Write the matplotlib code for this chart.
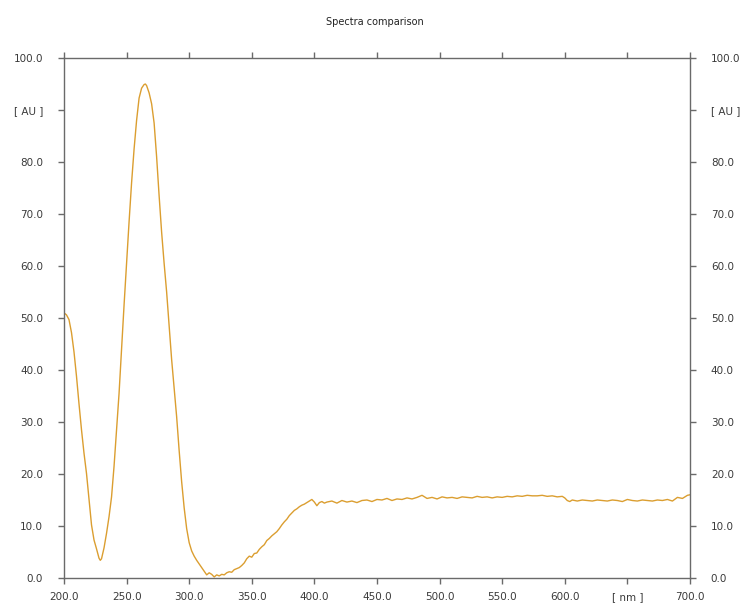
import matplotlib
matplotlib.use("Agg")
import matplotlib.pyplot as plt
from matplotlib.ticker import FixedLocator, FixedFormatter

plt.rcParams['font.family'] = ['DejaVu Sans']

# Absorbance spectrum (wavelength in nm, absorbance in AU)
wavelength = [
    200, 202, 204, 206, 208, 210, 212, 214, 216, 218, 220, 222, 224, 226, 228, 229,
    230, 232, 234, 236, 238, 240, 242, 244, 246, 248, 250, 252, 254, 256, 258, 260,
    262, 264, 265, 266, 268, 270, 272, 274, 276, 278, 280, 282, 284, 286, 288, 290,
    292, 294, 296, 298, 300, 302, 304, 306, 308, 310, 312, 314, 316, 318, 320, 322,
    324, 326, 328, 330, 332, 334, 336, 338, 340, 342, 344, 346, 348, 350, 352, 354,
    356, 358, 360, 362, 364, 366, 368, 370, 372, 374, 376, 378, 380, 382, 384, 386,
    388, 390, 392, 394, 396, 398, 400, 402, 404, 406, 408, 410, 414, 418, 422, 426,
    430, 434, 438, 442, 446, 450, 454, 458, 462, 466, 470, 474, 478, 482, 486, 490,
    494, 498, 502, 506, 510, 514, 518, 522, 526, 530, 534, 538, 542, 546, 550, 554,
    558, 562, 566, 570, 574, 578, 582, 586, 590, 594, 598, 600, 602, 604, 606, 610,
    614, 618, 622, 626, 630, 634, 638, 642, 646, 650, 654, 658, 662, 666, 670, 674,
    678, 682, 686, 690, 694, 698, 700,
]
absorbance = [
    51.0, 50.6, 49.7, 47.2, 43.5, 38.8, 33.5, 28.5, 24.0, 20.1, 15.2, 10.2, 7.3, 5.6, 3.8, 3.4,
    3.7, 5.8, 8.6, 11.8, 15.6, 21.5, 28.5, 35.5, 44.0, 52.5, 60.5, 68.5, 76.0, 82.5, 88.0, 92.3,
    94.2, 94.9, 95.0, 94.7, 93.3, 91.2, 87.5, 81.0, 73.5, 66.5, 60.5, 55.0, 48.5, 42.0, 36.5, 31.0,
    24.5, 18.5, 13.5, 9.5, 6.8, 5.2, 4.2, 3.4, 2.7, 2.0, 1.3, 0.6, 1.0, 0.7, 0.2, 0.6,
    0.4, 0.7, 0.6, 1.0, 1.2, 1.1, 1.6, 1.8, 2.0, 2.4, 2.9, 3.7, 4.2, 4.0, 4.7, 4.8,
    5.5, 6.0, 6.4, 7.2, 7.6, 8.1, 8.5, 8.9, 9.5, 10.2, 10.8, 11.3, 12.0, 12.5, 13.0, 13.3,
    13.7, 14.0, 14.2, 14.5, 14.8, 15.1, 14.6, 13.9, 14.5, 14.7, 14.4, 14.6, 14.8, 14.4, 14.9, 14.6,
    14.8, 14.5, 14.9, 15.0, 14.7, 15.1, 15.0, 15.3, 14.9, 15.2, 15.1, 15.4, 15.2, 15.5, 15.9, 15.3,
    15.5, 15.2, 15.6, 15.4, 15.5, 15.3, 15.6, 15.5, 15.4, 15.7, 15.5, 15.6, 15.4, 15.6, 15.5, 15.7,
    15.6, 15.8, 15.7, 15.9, 15.8, 15.8, 15.9, 15.7, 15.8, 15.6, 15.7, 15.4, 14.9, 14.7, 15.0, 14.8,
    15.0, 14.9, 14.8, 15.0, 14.9, 14.8, 15.0, 14.9, 14.7, 15.1, 14.9, 14.8, 15.0, 14.9, 14.8, 15.0,
    14.9, 15.1, 14.8, 15.5, 15.3, 15.9, 16.0,
]

x_ticks = [200, 250, 300, 350, 400, 450, 500, 550, 600, 650, 700]
x_labels = ['200.0', '250.0', '300.0', '350.0', '400.0', '450.0', '500.0',
            '550.0', '600.0', '[ nm ]', '700.0']
y_ticks = [0, 10, 20, 30, 40, 50, 60, 70, 80, 90, 100]
y_labels = ['0.0', '10.0', '20.0', '30.0', '40.0', '50.0', '60.0', '70.0',
            '80.0', '[ AU ]', '100.0']

fig = plt.figure(figsize=(7.43, 6.07), dpi=100)
ax = fig.add_axes([0.0861, 0.0478, 0.8425, 0.8566])

ax.plot(wavelength, absorbance, color='#DB9E30', linewidth=1.0)

ax.set_xlim(200, 700)
ax.set_ylim(0, 100)

axis_color = '#6a6a6a'
for side in ['left', 'right', 'top', 'bottom']:
    ax.spines[side].set_color(axis_color)
    ax.spines[side].set_linewidth(1.0)

ax.xaxis.set_major_locator(FixedLocator(x_ticks))
ax.xaxis.set_major_formatter(FixedFormatter(x_labels))
ax.yaxis.set_major_locator(FixedLocator(y_ticks))
ax.yaxis.set_major_formatter(FixedFormatter(y_labels))

ax.tick_params(axis='x', which='major', direction='out', length=4, width=1,
               color=axis_color, labelsize=7.5, labelcolor='#3a3a3a', pad=6,
               top=True, labeltop=False)
ax.tick_params(axis='y', which='major', direction='out', length=4, width=1,
               color=axis_color, labelsize=7.5, labelcolor='#3a3a3a', pad=11,
               right=True, labelright=True)

fig.text(0.505, 0.9638, 'Spectra comparison', ha='center', va='center',
         fontsize=7, color='#222222')

fig.savefig('out.png', dpi=100, facecolor='white')
